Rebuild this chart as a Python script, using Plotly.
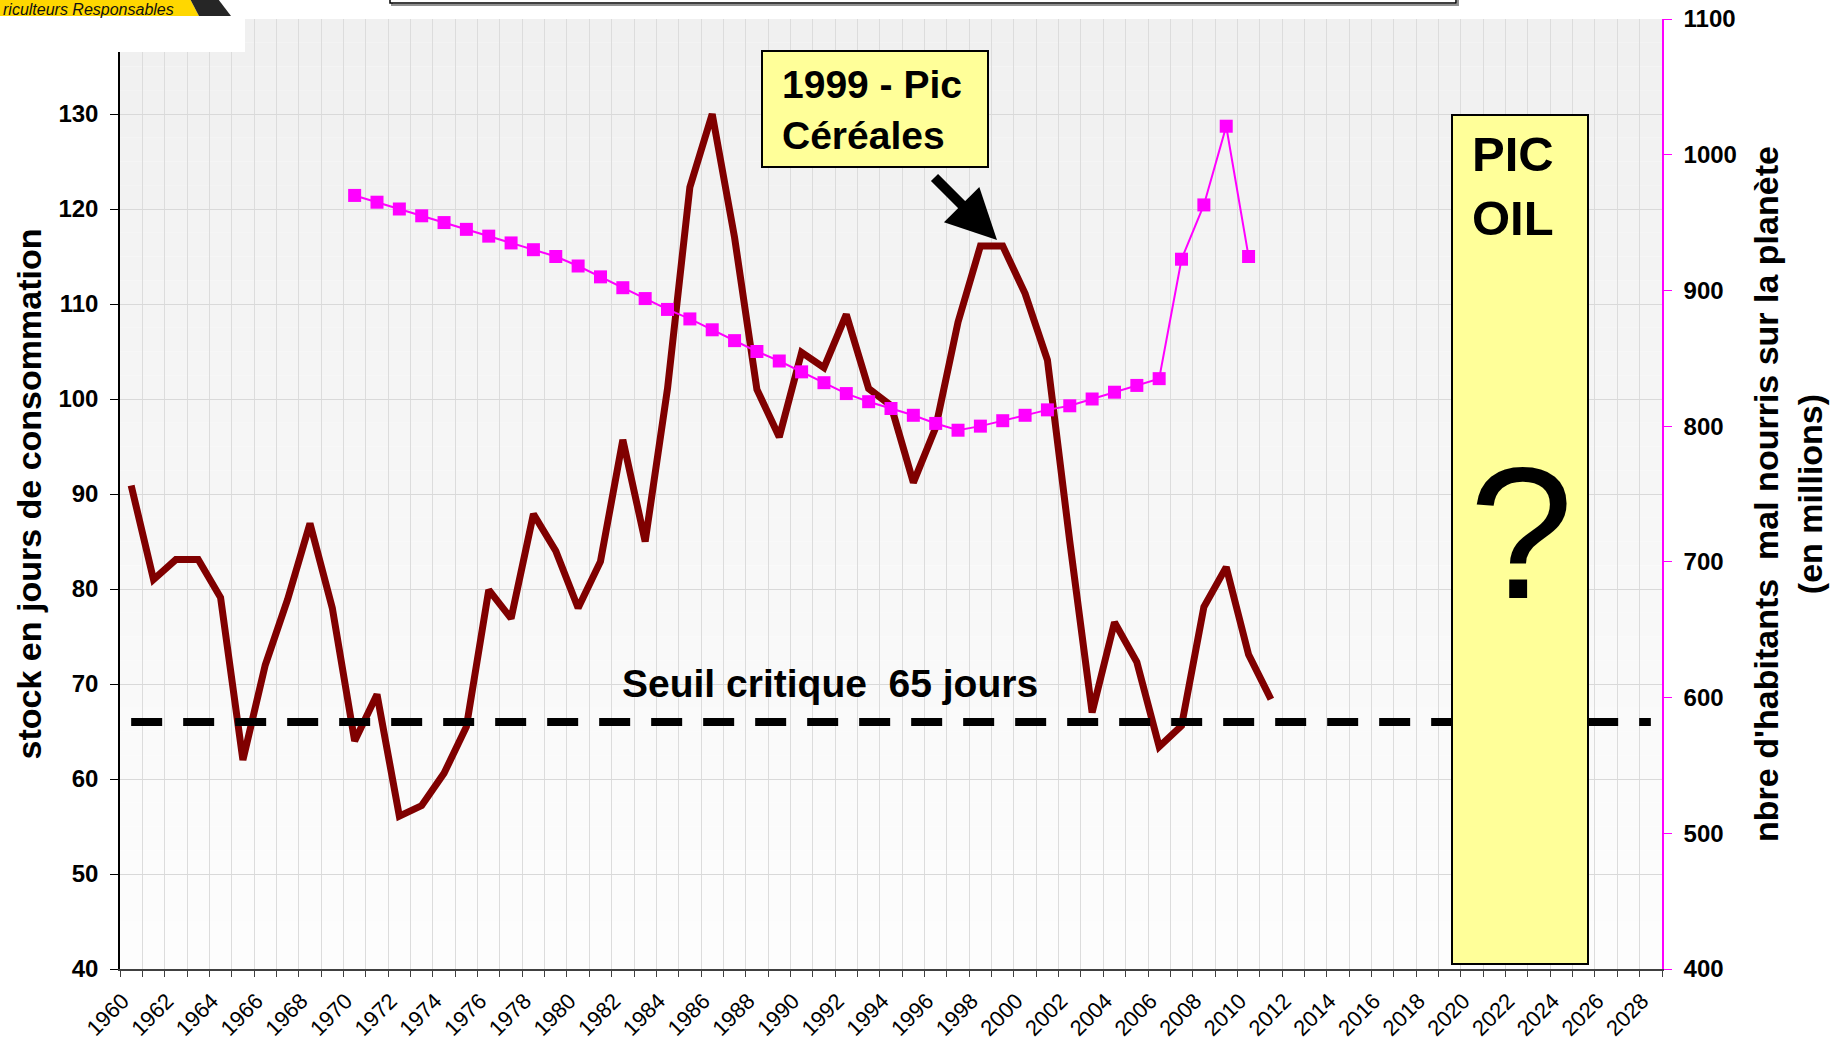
import plotly.graph_objects as go

# ---------------- data ----------------
stock_years = list(range(1960, 2012))
stock_days = [90.9, 81.0, 83.1, 83.1, 79.1, 62.0, 72.0, 78.9, 86.9, 78.0,
              64.0, 68.9, 56.1, 57.2, 60.6, 65.5, 79.9, 76.9, 87.9, 84.0,
              78.0, 82.9, 95.7, 85.0, 101.1, 122.3, 130.0, 117.0, 101.0, 96.0,
              104.9, 103.3, 108.9, 101.1, 99.3, 91.2, 97.0, 108.1, 116.1, 116.1,
              111.1, 104.1, 85.0, 67.0, 76.5, 72.3, 63.4, 65.6, 78.1, 82.3,
              73.1, 68.4]

hunger_years = list(range(1970, 2011))
hunger_millions = [970, 965, 960, 955, 950, 945, 940, 935, 930, 925,
                   918, 910, 902, 894, 886, 879, 871, 863, 855, 848,
                   840, 832, 824, 818, 813, 808, 802, 797, 800, 804,
                   808, 812, 815, 820, 825, 830, 835, 923, 963, 1021,
                   925]

seuil_years = [1960, 2028]
seuil_value = 66

xtick_years = list(range(1960, 2029, 2))
xtick_labels = [str(y) + "  " for y in xtick_years]
left_ticks = list(range(40, 140, 10))
right_ticks = list(range(400, 1101, 100))

# ---------------- geometry helpers ----------------
W, H = 1831, 1042
ML, MR, MT, MB = 120, 169, 19, 73
PW, PH = W - ML - MR, H - MT - MB
X0, X1 = 1959.5, 2028.5
Y0, Y1 = 40, 140


def xp(px):
    return (px - ML) / PW


def yp(py):
    return (H - MB - py) / PH


def xd(px):
    return X0 + (px - ML) / PW * (X1 - X0)


def yd(py):
    return Y0 + (H - MB - py) / PH * (Y1 - Y0)


fig = go.Figure()

fig.add_trace(go.Scatter(
    x=hunger_years, y=hunger_millions, yaxis="y2", mode="lines+markers",
    line=dict(color="#FF00FF", width=2),
    marker=dict(symbol="square", size=13, color="#FF00FF"),
    showlegend=False, hoverinfo="x+y"))

fig.add_trace(go.Scatter(
    x=stock_years, y=stock_days, mode="lines",
    line=dict(color="#800000", width=7),
    showlegend=False, hoverinfo="x+y"))

fig.add_trace(go.Scatter(
    x=seuil_years, y=[seuil_value] * len(seuil_years), mode="lines",
    line=dict(color="black", width=8, dash="31px,21px"),
    showlegend=False, hoverinfo="skip"))

shapes = []
# plot-area gradient background
nb = 40
for i in range(nb):
    t = i / (nb - 1)
    c = int(round(240 + (253 - 240) * t))
    shapes.append(dict(type="rect", xref="paper", yref="paper",
                       x0=0, x1=1, y0=1 - (i + 1) / nb, y1=1 - i / nb,
                       fillcolor=f"rgb({c},{c},{c})", line=dict(width=0),
                       layer="below"))

# white block behind logo
shapes.append(dict(type="rect", xref="paper", yref="paper",
                   x0=xp(-5), x1=xp(245), y0=yp(52), y1=yp(-5),
                   fillcolor="white", line=dict(width=0), layer="above"))
# logo yellow band and black wedge
shapes.append(dict(type="path", xref="paper", yref="paper",
                   path=f"M {xp(-5)} {yp(-5)} L {xp(188)} {yp(-5)} L {xp(199)} {yp(16)} L {xp(-5)} {yp(16)} Z",
                   fillcolor="#FFD700", line=dict(width=0), layer="above"))
shapes.append(dict(type="path", xref="paper", yref="paper",
                   path=f"M {xp(188)} {yp(-5)} L {xp(215)} {yp(-5)} L {xp(231)} {yp(16)} L {xp(199)} {yp(16)} Z",
                   fillcolor="#262626", line=dict(width=0), layer="above"))
# top title box (cut off)
shapes.append(dict(type="rect", xref="paper", yref="paper",
                   x0=xp(392), x1=xp(1458), y0=yp(5), y1=yp(-20),
                   fillcolor="rgba(0,0,0,0)", line=dict(color="#909090", width=2), layer="above"))
shapes.append(dict(type="rect", xref="paper", yref="paper",
                   x0=xp(390), x1=xp(1456), y0=yp(3), y1=yp(-20),
                   fillcolor="white", line=dict(color="black", width=1.5), layer="above"))

# "1999 - Pic Céréales" box
shapes.append(dict(type="rect", xref="x", yref="y",
                   x0=xd(762), x1=xd(988), y0=yd(167), y1=yd(51),
                   fillcolor="#FFFF99", line=dict(color="black", width=2), layer="above"))
# PIC OIL box
shapes.append(dict(type="rect", xref="x", yref="y",
                   x0=xd(1452), x1=xd(1588), y0=yd(964), y1=yd(115),
                   fillcolor="#FFFF99", line=dict(color="black", width=2), layer="above"))

bold = dict(family="Liberation Sans, Arial, sans-serif", color="black", weight="bold")

annotations = [
    dict(text="riculteurs Responsables", xref="paper", yref="paper",
         x=xp(2), y=yp(0), xanchor="left", yanchor="top", showarrow=False,
         borderpad=0,
         font=dict(family="Liberation Sans, sans-serif",
                   size=16, color="#111111", style="italic")),
    dict(text="1999 - Pic<br>Céréales", xref="x", yref="y",
         x=xd(780), y=yd(110), xanchor="left", yanchor="middle", align="left",
         showarrow=False, font=dict(size=39, **bold)),
    dict(text="", xref="x", yref="y", x=xd(997), y=yd(240),
         ax=-64, ay=-64, showarrow=True, arrowhead=2, arrowsize=1,
         arrowwidth=10, arrowcolor="black"),
    dict(text="Seuil critique  65 jours", xref="x", yref="y",
         x=xd(830), y=yd(683), xanchor="center", yanchor="middle",
         showarrow=False, font=dict(size=39, **bold)),
    dict(text="PIC<br>OIL", xref="x", yref="y",
         x=xd(1470), y=yd(125), xanchor="left", yanchor="top", align="left",
         showarrow=False, font=dict(size=49, **bold)),
    dict(text="?", xref="x", yref="y",
         x=xd(1521), y=yd(533), xanchor="center", yanchor="middle",
         showarrow=False,
         font=dict(family="Liberation Sans, Arial, sans-serif", size=188, color="black")),
]

fig.update_layout(
    width=W, height=H,
    margin=dict(l=ML, r=MR, t=MT, b=MB, pad=0, autoexpand=False),
    paper_bgcolor="white", plot_bgcolor="rgba(0,0,0,0)",
    showlegend=False,
    shapes=shapes, annotations=annotations,
    xaxis=dict(
        range=[X0, X1], tickmode="array", tickvals=xtick_years, ticktext=xtick_labels,
        tickangle=-45, ticks="", showgrid=False, zeroline=False, automargin=False,
        showline=True, linecolor="#404040", linewidth=1.5,
        tickfont=dict(family="Liberation Sans, Arial, sans-serif", size=22, color="black"),
        minor=dict(tickmode="linear", tick0=1959.5, dtick=1, ticks="outside",
                   ticklen=6, tickcolor="#404040", showgrid=True,
                   gridcolor="#dcdcdc", gridwidth=1),
    ),
    yaxis=dict(
        range=[Y0, Y1], tickmode="array", tickvals=left_ticks, automargin=False,
        showgrid=True, gridcolor="#d9d9d9", gridwidth=1, zeroline=False,
        showline=True, linecolor="black", linewidth=1.5,
        ticks="outside", ticklen=8, tickcolor="black", ticklabelstandoff=7,
        tickfont=dict(family="Liberation Sans, Arial, sans-serif", size=24,
                      color="black", weight="bold"),
        title=dict(text="stock en jours de consommation", standoff=7,
                   font=dict(family="Liberation Sans, Arial, sans-serif", size=34,
                             color="black", weight="bold")),
    ),
    yaxis2=dict(
        range=[400, 1100], tickmode="array", tickvals=right_ticks, automargin=False,
        overlaying="y", side="right", showgrid=False, zeroline=False,
        showline=True, linecolor="#FF00FF", linewidth=1.5,
        ticks="outside", ticklen=8, tickcolor="#FF00FF", ticklabelstandoff=7,
        tickfont=dict(family="Liberation Sans, Arial, sans-serif", size=24,
                      color="black", weight="bold"),
        title=dict(text="nbre d'habitants  mal nourris sur la planète<br>(en millions)",
                   standoff=18,
                   font=dict(family="Liberation Sans, Arial, sans-serif", size=34,
                             color="black", weight="bold")),
    ),
)

fig.write_html("out.html", config={"displayModeBar": False},
               post_script="document.body.style.margin='0px';")
